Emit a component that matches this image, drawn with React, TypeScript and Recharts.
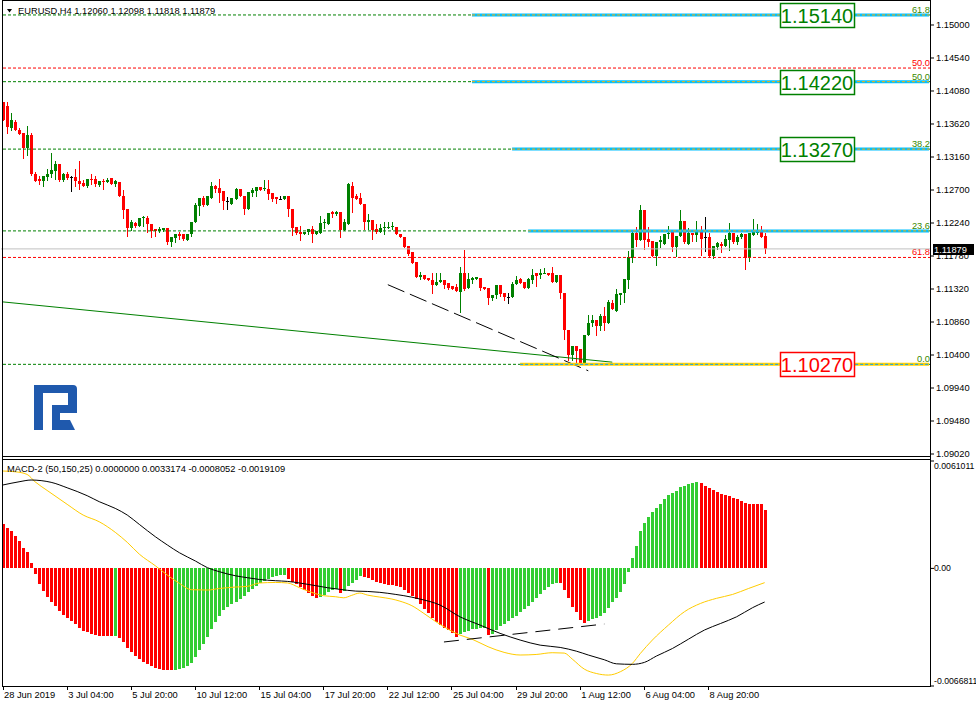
import React from 'react';
import { ComposedChart, Bar, Line, XAxis, YAxis, ReferenceLine, ReferenceDot } from 'recharts';

// EURUSD H4 candles, 28 Jun 2019 .. 9 Aug 2019
const opens = [
  1.1392, 1.1387, 1.1357, 1.1365, 1.1354, 1.1349, 1.1329, 1.1346, 1.1293, 1.1285,
  1.1283, 1.1288, 1.1292, 1.1297, 1.1306, 1.1284, 1.1292, 1.1288, 1.1288, 1.1283,
  1.128, 1.1275, 1.1286, 1.1286, 1.1277, 1.1283, 1.1281, 1.1287, 1.1279, 1.1281,
  1.1262, 1.1243, 1.1217, 1.1224, 1.122, 1.1231, 1.1231, 1.1223, 1.1215, 1.1213,
  1.1214, 1.1217, 1.1198, 1.1203, 1.1209, 1.1208, 1.1201, 1.1208, 1.1225, 1.1248,
  1.1259, 1.1249, 1.1259, 1.1276, 1.1273, 1.1268, 1.1255, 1.1251, 1.1257, 1.1271,
  1.1262, 1.1244, 1.1266, 1.1269, 1.1274, 1.1271, 1.1271, 1.1266, 1.126, 1.1257,
  1.1257, 1.1261, 1.1244, 1.1218, 1.1212, 1.1209, 1.1211, 1.1215, 1.1209, 1.121,
  1.1224, 1.1222, 1.1239, 1.1236, 1.124, 1.1214, 1.1223, 1.1276, 1.1261, 1.1259,
  1.1251, 1.1225, 1.1228, 1.1215, 1.1211, 1.1217, 1.1217, 1.1218, 1.1219, 1.1209,
  1.1204, 1.1192, 1.1183, 1.1169, 1.1149, 1.1152, 1.1148, 1.1145, 1.1137, 1.1142,
  1.1145, 1.114, 1.1136, 1.1135, 1.1128, 1.1155, 1.1133, 1.1144, 1.1146, 1.1148,
  1.1135, 1.1134, 1.1119, 1.1124, 1.1137, 1.1127, 1.1121, 1.1121, 1.1139, 1.1146,
  1.1142, 1.1134, 1.1145, 1.1154, 1.1151, 1.1154, 1.1154, 1.1154, 1.1142, 1.1151,
  1.1127, 1.1075, 1.104, 1.1052, 1.1048, 1.1028, 1.1068, 1.1084, 1.1089, 1.1081,
  1.1095, 1.1084, 1.1113, 1.1101, 1.1123, 1.1127, 1.1144, 1.1175, 1.121, 1.12,
  1.1242, 1.1202, 1.1199, 1.1178, 1.1197, 1.1195, 1.1208, 1.1212, 1.119, 1.1206,
  1.1227, 1.1195, 1.121, 1.1207, 1.1214, 1.1204, 1.1204, 1.1178, 1.1191, 1.1195,
  1.1192, 1.12, 1.121, 1.1197, 1.1204, 1.1209, 1.1175, 1.1207, 1.121, 1.1213,
  1.1206,
];
const highs = [
  1.1393, 1.1393, 1.1378, 1.1367, 1.1357, 1.135, 1.1359, 1.135, 1.1295, 1.1289,
  1.1289, 1.1299, 1.1322, 1.131, 1.1306, 1.1294, 1.1295, 1.1289, 1.1299, 1.131,
  1.1284, 1.1286, 1.1293, 1.129, 1.1282, 1.1285, 1.1287, 1.1287, 1.1284, 1.1281,
  1.127, 1.1243, 1.1228, 1.1226, 1.1231, 1.1234, 1.1234, 1.1223, 1.1215, 1.1218,
  1.1217, 1.1217, 1.1205, 1.1209, 1.1212, 1.1208, 1.1208, 1.1226, 1.1252, 1.1259,
  1.1261, 1.1261, 1.1281, 1.1277, 1.1285, 1.1268, 1.126, 1.1259, 1.1273, 1.1271,
  1.1262, 1.1267, 1.1273, 1.1274, 1.1274, 1.1284, 1.1284, 1.1266, 1.126, 1.1262,
  1.1262, 1.1261, 1.1244, 1.1218, 1.122, 1.1212, 1.1215, 1.122, 1.1213, 1.1234,
  1.123, 1.1238, 1.1241, 1.1241, 1.124, 1.1229, 1.128, 1.1281, 1.1265, 1.1266,
  1.1251, 1.1237, 1.1228, 1.1222, 1.1223, 1.1225, 1.1225, 1.1226, 1.1219, 1.1209,
  1.1204, 1.1192, 1.1183, 1.1169, 1.1156, 1.1152, 1.1148, 1.1155, 1.1155, 1.1155,
  1.1145, 1.114, 1.1136, 1.1139, 1.1162, 1.1187, 1.1154, 1.1149, 1.1149, 1.1148,
  1.1135, 1.1134, 1.1124, 1.1138, 1.1138, 1.1127, 1.1127, 1.1142, 1.115, 1.1147,
  1.1142, 1.1148, 1.116, 1.1154, 1.116, 1.1161, 1.1155, 1.1162, 1.1151, 1.1151,
  1.1127, 1.1075, 1.1052, 1.1052, 1.1048, 1.1068, 1.1096, 1.1096, 1.1089, 1.1097,
  1.1107, 1.1117, 1.1117, 1.1132, 1.1127, 1.1146, 1.1185, 1.1214, 1.1218, 1.1249,
  1.1242, 1.1218, 1.1199, 1.1198, 1.1206, 1.1209, 1.122, 1.1212, 1.1206, 1.1242,
  1.1227, 1.1217, 1.121, 1.1227, 1.122, 1.1233, 1.121, 1.1192, 1.1197, 1.1198,
  1.1207, 1.1224, 1.121, 1.1207, 1.121, 1.1209, 1.121, 1.123, 1.1223, 1.122,
  1.12098,
];
const lows = [
  1.1367, 1.135, 1.1354, 1.1353, 1.1348, 1.1315, 1.1319, 1.1291, 1.1282, 1.1279,
  1.1275, 1.1284, 1.1288, 1.1285, 1.1282, 1.1283, 1.1286, 1.1268, 1.1275, 1.1271,
  1.1275, 1.1274, 1.1278, 1.1276, 1.1276, 1.1272, 1.1281, 1.1279, 1.1276, 1.1261,
  1.1231, 1.1206, 1.1214, 1.1219, 1.122, 1.122, 1.1212, 1.1205, 1.1206, 1.1211,
  1.1213, 1.1195, 1.1192, 1.1198, 1.1202, 1.1201, 1.1201, 1.1206, 1.1225, 1.1235,
  1.1248, 1.1249, 1.1259, 1.1267, 1.1253, 1.1244, 1.1244, 1.1251, 1.1257, 1.1261,
  1.1236, 1.1244, 1.1262, 1.1262, 1.127, 1.127, 1.1258, 1.1254, 1.1252, 1.1257,
  1.1257, 1.1234, 1.1207, 1.1208, 1.1201, 1.1208, 1.1209, 1.1198, 1.1209, 1.121,
  1.1217, 1.1222, 1.1232, 1.1235, 1.1204, 1.1214, 1.1223, 1.1239, 1.1258, 1.125,
  1.1216, 1.1216, 1.1202, 1.121, 1.1211, 1.1209, 1.1217, 1.1216, 1.1208, 1.1204,
  1.119, 1.1179, 1.1168, 1.1149, 1.1146, 1.1146, 1.1144, 1.1126, 1.1137, 1.1142,
  1.1133, 1.1132, 1.1132, 1.1129, 1.11, 1.1131, 1.1133, 1.1141, 1.1146, 1.113,
  1.1132, 1.1111, 1.1117, 1.112, 1.1122, 1.1117, 1.1112, 1.1121, 1.1139, 1.114,
  1.1133, 1.1134, 1.114, 1.1136, 1.1148, 1.1154, 1.1152, 1.1142, 1.1142, 1.1119,
  1.1062, 1.1033, 1.1033, 1.103, 1.1027, 1.1027, 1.1068, 1.1081, 1.1068, 1.1075,
  1.1075, 1.1084, 1.1104, 1.1101, 1.1111, 1.1114, 1.1133, 1.1169, 1.1192, 1.12,
  1.1188, 1.1192, 1.1178, 1.1165, 1.1191, 1.1195, 1.1203, 1.1185, 1.1178, 1.1206,
  1.1196, 1.1195, 1.1199, 1.1199, 1.1179, 1.1185, 1.1177, 1.1175, 1.1188, 1.1183,
  1.1192, 1.1186, 1.1196, 1.1195, 1.1203, 1.116, 1.1171, 1.1207, 1.1208, 1.1205,
  1.11818,
];
const closes = [
  1.1367, 1.1358, 1.1368, 1.1353, 1.1348, 1.1329, 1.1346, 1.1292, 1.1283, 1.1283,
  1.1289, 1.1293, 1.1298, 1.1306, 1.1284, 1.1292, 1.1287, 1.1288, 1.1282, 1.1278,
  1.1275, 1.1286, 1.1284, 1.1278, 1.1282, 1.1281, 1.1284, 1.1279, 1.1282, 1.1261,
  1.1242, 1.1217, 1.1226, 1.122, 1.1231, 1.1232, 1.1222, 1.1213, 1.1213, 1.1216,
  1.1217, 1.1197, 1.1205, 1.1209, 1.1206, 1.1202, 1.1208, 1.1225, 1.1249, 1.1259,
  1.1249, 1.1261, 1.1275, 1.1272, 1.1266, 1.1254, 1.1255, 1.1259, 1.1271, 1.1261,
  1.1244, 1.1267, 1.127, 1.1274, 1.127, 1.1273, 1.1264, 1.1257, 1.1257, 1.1257,
  1.1261, 1.1244, 1.1217, 1.121, 1.1208, 1.1212, 1.1215, 1.1209, 1.1213, 1.1224,
  1.1225, 1.1238, 1.1236, 1.124, 1.1214, 1.1225, 1.1279, 1.1259, 1.1258, 1.125,
  1.1225, 1.1228, 1.1214, 1.1211, 1.1217, 1.1218, 1.1219, 1.122, 1.1208, 1.1204,
  1.119, 1.1181, 1.1168, 1.1149, 1.1151, 1.1146, 1.1144, 1.1137, 1.1142, 1.1145,
  1.1138, 1.1133, 1.1132, 1.1129, 1.1155, 1.1132, 1.1146, 1.1147, 1.1149, 1.1134,
  1.1132, 1.112, 1.1124, 1.1137, 1.1125, 1.1121, 1.1121, 1.1139, 1.1145, 1.114,
  1.1134, 1.1146, 1.1152, 1.115, 1.1154, 1.1155, 1.1152, 1.1142, 1.1151, 1.1127,
  1.1075, 1.104, 1.1052, 1.1046, 1.1029, 1.1068, 1.1084, 1.1089, 1.1081, 1.1095,
  1.1084, 1.1114, 1.1104, 1.1125, 1.1127, 1.1146, 1.1177, 1.121, 1.12, 1.1242,
  1.12, 1.1198, 1.1178, 1.1198, 1.12, 1.1209, 1.121, 1.119, 1.1206, 1.1227,
  1.1197, 1.121, 1.1207, 1.1214, 1.1202, 1.1204, 1.1178, 1.1192, 1.1196, 1.1192,
  1.1202, 1.121, 1.1198, 1.1204, 1.1209, 1.1175, 1.121, 1.1211, 1.1213, 1.1205,
  1.11879,
];

// MACD-2 histogram, in units of 0.00001
const histogram = [
  252, 227, 212, 186, 155, 117, 95, 30, -30, -87,
  -127, -161, -189, -214, -242, -265, -280, -299, -318, -341,
  -354, -360, -371, -379, -383, -384, -385, -386, -385, -394,
  -420, -451, -477, -500, -515, -530, -545, -557, -568, -572,
  -576, -578, -580, -578, -574, -566, -555, -536, -506, -464,
  -428, -390, -343, -303, -269, -239, -218, -203, -189, -174,
  -159, -136, -117, -100, -85, -72, -61, -51, -45, -40,
  -38, -61, -76, -91, -106, -121, -140, -155, -167, -163,
  -152, -136, -123, -117, -138, -129, -102, -85, -68, -45,
  -49, -57, -64, -76, -83, -89, -93, -97, -102, -108,
  -123, -138, -155, -174, -203, -231, -256, -280, -307, -322,
  -337, -350, -369, -388, -375, -364, -354, -347, -343, -341,
  -339, -379, -371, -352, -330, -314, -299, -284, -269, -250,
  -231, -212, -193, -170, -148, -125, -106, -89, -81, -85,
  -121, -170, -218, -246, -294, -309, -297, -290, -280, -269,
  -256, -227, -193, -167, -133, -91, -23, 57, 129, 212,
  256, 292, 318, 341, 364, 392, 415, 426, 441, 462,
  470, 477, 483, 489, 483, 470, 455, 445, 436, 420,
  417, 413, 402, 394, 383, 369, 368, 367, 366, 365,
  332,
];

// [bar, value in 0.00001]
const blackLine: [number, number][] = [
  [0, 474], [4, 492], [7, 502], [12, 489], [16, 458], [21, 413], [24, 379], [28, 341],
  [31, 303], [34, 250], [38, 180], [41, 133], [44, 89], [48, 42], [51, 4], [54, -19],
  [58, -42], [61, -53], [64, -63], [68, -70], [71, -74], [74, -83], [78, -98], [81, -110],
  [84, -119], [88, -129], [91, -131], [94, -136], [98, -148], [100, -155], [104, -174],
  [109, -208], [114, -275], [119, -322], [124, -369], [129, -407], [134, -436], [139, -449],
  [143, -470], [146, -492], [150, -519], [153, -542], [157, -545], [160, -534], [163, -498],
  [167, -455], [171, -402], [175, -350], [179, -313], [183, -275], [187, -223], [190, -191],
];
const goldLine: [number, number][] = [
  [0, 553], [3, 549], [6, 534], [8, 492], [11, 443], [16, 364], [20, 303], [24, 265],
  [28, 205], [31, 148], [34, 81], [38, 15], [41, -38], [44, -85], [47, -121], [51, -123],
  [54, -114], [58, -106], [61, -102], [64, -83], [68, -80], [71, -83], [74, -110], [78, -144],
  [80, -155], [83, -161], [85, -167], [87, -153], [89, -140], [91, -152], [94, -163], [97, -174],
  [99, -186], [102, -212], [105, -256], [108, -303], [111, -345], [114, -379], [117, -402],
  [121, -445], [125, -477], [129, -492], [133, -489], [137, -479], [140, -481], [142, -515],
  [145, -572], [148, -597], [151, -606], [154, -587], [157, -540], [159, -483], [162, -407],
  [166, -322], [170, -246], [174, -199], [178, -170], [182, -148], [186, -114], [190, -81],
];

const timeLabels = [
  '28 Jun 2019', '3 Jul 04:00', '5 Jul 20:00', '10 Jul 12:00', '15 Jul 04:00', '17 Jul 20:00',
  '22 Jul 12:00', '25 Jul 04:00', '29 Jul 20:00', '1 Aug 12:00', '6 Aug 04:00', '8 Aug 20:00',
];
const priceTicks = [
  1.0902, 1.0948, 1.0994, 1.104, 1.1086, 1.1132, 1.1178, 1.1224, 1.127, 1.1316, 1.1362, 1.1408, 1.1454, 1.15,
];
const macdTicks = [0.0061011, 0, -0.0066811];
const macdLegend = ['0.0000000', '0.0033174', '-0.0008052', '-0.0019109'];

// fibonacci objects: level, tag, price box text, first bar of the thick line
const fibLevels = [
  { price: 1.1514, tag: '61.8', box: '1.15140', from: 117 },
  { price: 1.1421, tag: '50.0', box: '1.14220', from: 117 },
  { price: 1.1327, tag: '38.2', box: '1.13270', from: 127 },
  { price: 1.1213, tag: '23.6', box: '', from: 131 },
];
const zeroLevel = { price: 1.1027, tag: '0.0', box: '1.10270', from: 129 };
const redLevels = [
  { price: 1.144, tag: '50.0' },
  { price: 1.1176, tag: '61.8' },
];
const greenTrend = [{ bar: 0, price: 1.1114 }, { bar: 152, price: 1.103 }];
const dashTrend = [{ bar: 96, price: 1.1138 }, { bar: 146, price: 1.1018 }];
const macdTrend = [{ bar: 110, value: -0.00418 }, { bar: 150, value: -0.00316 }];

const SLOTS = 232;
const BOX_BAR = 203;
const FONT = '"Liberation Sans", Arial, sans-serif';
const FS = 9.3;
const GREEN_TXT = '#3a8a00';

const last = closes.length - 1;
const lastClose = closes[last];

const mainData = Array.from({ length: SLOTS }, (_, i) =>
  i <= last
    ? { i, o: opens[i], h: highs[i], l: lows[i], c: closes[i], range: [lows[i], highs[i]] }
    : { i },
);

const macdData: any[] = Array.from({ length: SLOTS }, (_, i) => ({
  i,
  hist: histogram[i] != null ? histogram[i] * 1e-5 : undefined,
}));
blackLine.forEach(([b, v]) => (macdData[b].macd = v * 1e-5));
goldLine.forEach(([b, v]) => (macdData[b].signal = v * 1e-5));

// histogram is green while rising, red while falling
const histColors: string[] = [];
histogram.forEach((v, i) => {
  if (i === 0) histColors.push('#ff0000');
  else if (v > histogram[i - 1]) histColors.push('#32cd32');
  else if (v < histogram[i - 1]) histColors.push('#ff0000');
  else histColors.push(histColors[i - 1]);
});

function Candle(props: any) {
  const { x, y, width, height, payload } = props;
  if (!payload || payload.o == null || x == null || isNaN(y)) return null;
  const { o, h, l, c } = payload;
  const top = Math.min(y, y + height);
  const bot = Math.max(y, y + height);
  const span = h - l;
  const py = (p: number) => (span > 0 ? top + ((h - p) / span) * (bot - top) : top);
  const cx = Math.floor(x + width / 2);
  const color = c > o ? '#008000' : c < o ? '#ff0000' : '#000000';
  const b1 = Math.round(py(Math.max(o, c)));
  const b2 = Math.round(py(Math.min(o, c)));
  return (
    <g>
      <line x1={cx + 0.5} x2={cx + 0.5} y1={Math.round(top)} y2={Math.round(bot) + 1} stroke={color} />
      {c === o ? (
        <line x1={cx - 1} x2={cx + 2} y1={b1 + 0.5} y2={b1 + 0.5} stroke={color} />
      ) : (
        <rect x={cx - 1} y={b1} width={3} height={Math.max(1, b2 - b1)} fill={color} />
      )}
    </g>
  );
}

function HistBar(props: any) {
  const { x, y, width, height, index } = props;
  if (x == null || isNaN(y) || !height) return null;
  const cx = Math.floor(x + width / 2);
  const top = Math.round(Math.min(y, y + height));
  const bot = Math.round(Math.max(y, y + height));
  return <rect x={cx - 1} y={top} width={3} height={Math.max(1, bot - top)} fill={histColors[index]} />;
}

function FibTag({ viewBox, text, color }: any) {
  if (!viewBox) return null;
  return (
    <text x={viewBox.x + viewBox.width - 1} y={viewBox.y - 2} textAnchor="end" fontSize={FS} fill={color} fontFamily={FONT}>
      {text}
    </text>
  );
}

function PriceTag({ viewBox, text }: any) {
  if (!viewBox) return null;
  const x = viewBox.x + viewBox.width + 2;
  const y = Math.round(viewBox.y);
  return (
    <g>
      <rect x={x} y={y - 5} width={41} height={11} fill="#000" />
      <text x={x + 1} y={y + 4} fontSize={FS} fill="#fff" fontFamily={FONT}>
        {text}
      </text>
    </g>
  );
}

function LevelBox({ cx, cy, text, color }: any) {
  if (cx == null || cy == null) return null;
  const x = Math.round(cx) - 37;
  const y = Math.round(cy) - 12;
  return (
    <g>
      <rect x={x + 0.5} y={y + 0.5} width={74} height={24} fill="#fff" stroke={color} strokeWidth={1.5} />
      <text x={x + 37} y={y + 19.5} textAnchor="middle" fontSize={20} fill={color} fontFamily={FONT}>
        {text}
      </text>
    </g>
  );
}

function TimeTick({ x, y, payload }: any) {
  const idx = Number(payload.value);
  if (idx % 16 !== 0) return null;
  const label = timeLabels[idx / 16];
  if (!label) return null;
  const lx = Math.floor(x) + 0.5;
  return (
    <g>
      <line x1={lx} x2={lx} y1={y - 5} y2={y - 1} stroke="#000" />
      <text x={x + 1} y={y} dy="0.71em" fontSize={FS} fill="#000" fontFamily={FONT}>
        {label}
      </text>
    </g>
  );
}

function MacdTick({ x, y, payload }: any) {
  const v = payload.value;
  const off = v > 0 ? 5 : v < 0 ? -5 : 0;
  const label = v === 0 ? '0.00' : v.toFixed(7);
  return (
    <text x={x - 2} y={y + off} dy="0.355em" fontSize={8.7} fill="#000" fontFamily={FONT}>
      {label}
    </text>
  );
}

function Logo() {
  const blue = '#1f59ad';
  return (
    <g fill={blue}>
      <rect x={34} y={385} width={9} height={45} />
      <path d="M34 385 H73 Q77 385 77 389 V413 H52 V405 H68 V393 H34 Z" />
      <rect x={52} y={405} width={8} height={25} />
      <polygon points="60,420 70,420 75,430 60,430" />
    </g>
  );
}

export default function App() {
  const yMain: [number, number] = [1.089783, 1.153345];
  return (
    <div style={{ position: 'absolute', left: 0, top: 0, width: 976, height: 707, background: '#fff', fontFamily: FONT }}>
      <div style={{ position: 'absolute', left: 0, top: 0 }}>
        <ComposedChart width={976} height={460} data={mainData} margin={{ top: 1, right: 0, bottom: 3, left: 1 }}>
          <XAxis dataKey="i" type="category" hide />
          <YAxis
            orientation="right"
            width={45}
            type="number"
            domain={yMain}
            allowDataOverflow
            ticks={priceTicks}
            interval={0}
            tickFormatter={(v: number) => v.toFixed(5)}
            tickSize={3}
            tickMargin={2}
            axisLine={false}
            tickLine={{ stroke: '#000' }}
            tick={{ fontSize: FS, fill: '#000', fontFamily: FONT }}
          />
          {[...fibLevels, zeroLevel].map((f) => (
            <ReferenceLine
              key={'g' + f.price}
              y={f.price}
              stroke="#008000"
              strokeDasharray="3 2"
              label={(p: any) => <FibTag viewBox={p.viewBox} text={f.tag} color={GREEN_TXT} />}
            />
          ))}
          {redLevels.map((f) => (
            <ReferenceLine
              key={'r' + f.price}
              y={f.price}
              stroke="#ff0000"
              strokeDasharray="3 2"
              label={(p: any) => <FibTag viewBox={p.viewBox} text={f.tag} color="#ff0000" />}
            />
          ))}
          <ReferenceLine
            y={lastClose}
            stroke="#c0c0c0"
            label={(p: any) => <PriceTag viewBox={p.viewBox} text={lastClose.toFixed(5)} />}
          />
          <ReferenceLine
            segment={[{ x: greenTrend[0].bar, y: greenTrend[0].price }, { x: greenTrend[1].bar, y: greenTrend[1].price }]}
            stroke="#008000"
          />
          <ReferenceLine
            segment={[{ x: dashTrend[0].bar, y: dashTrend[0].price }, { x: dashTrend[1].bar, y: dashTrend[1].price }]}
            stroke="#000"
            strokeDasharray="18 6"
          />
          <Bar dataKey="range" barSize={3} shape={<Candle />} isAnimationActive={false} />
          {fibLevels.map((f) => (
            <ReferenceLine
              key={'b' + f.price}
              segment={[{ x: f.from, y: f.price }, { x: SLOTS - 1, y: f.price }]}
              stroke="#00bfff"
              strokeWidth={3}
            />
          ))}
          {fibLevels.map((f) => (
            <ReferenceLine
              key={'bd' + f.price}
              segment={[{ x: f.from, y: f.price }, { x: SLOTS - 1, y: f.price }]}
              stroke="#ffb000"
              strokeDasharray="3 2"
            />
          ))}
          <ReferenceLine
            segment={[{ x: zeroLevel.from, y: zeroLevel.price }, { x: SLOTS - 1, y: zeroLevel.price }]}
            stroke="#ffd000"
            strokeWidth={3}
          />
          <ReferenceLine
            segment={[{ x: zeroLevel.from, y: zeroLevel.price }, { x: SLOTS - 1, y: zeroLevel.price }]}
            stroke="#00a0ff"
            strokeDasharray="3 2"
          />
          {[...fibLevels, zeroLevel]
            .filter((f) => f.box)
            .map((f) => (
              <ReferenceDot
                key={'box' + f.price}
                x={BOX_BAR}
                y={f.price}
                r={0}
                shape={(p: any) => (
                  <LevelBox cx={p.cx} cy={p.cy} text={f.box} color={f === zeroLevel ? '#ff0000' : '#008000'} />
                )}
              />
            ))}
        </ComposedChart>
      </div>

      <div style={{ position: 'absolute', left: 0, top: 459 }}>
        <ComposedChart width={976} height={248} data={macdData} margin={{ top: 2, right: 0, bottom: 0, left: 1 }}>
          <XAxis
            dataKey="i"
            type="category"
            interval={15}
            height={21}
            tickSize={4}
            tickMargin={1}
            tickLine={false}
            axisLine={false}
            tick={<TimeTick />}
          />
          <YAxis
            orientation="right"
            width={45}
            type="number"
            domain={[-0.0066811, 0.0061011]}
            allowDataOverflow
            ticks={macdTicks}
            interval={0}
            tickSize={3}
            tickMargin={2}
            axisLine={false}
            tickLine={{ stroke: '#000' }}
            tick={<MacdTick />}
          />
          <Bar dataKey="hist" barSize={3} shape={<HistBar />} isAnimationActive={false} />
          <Line dataKey="signal" type="monotone" stroke="#ffcc00" strokeWidth={1} dot={false} connectNulls isAnimationActive={false} />
          <Line dataKey="macd" type="monotone" stroke="#000" strokeWidth={1} dot={false} connectNulls isAnimationActive={false} />
          <ReferenceLine
            segment={[{ x: macdTrend[0].bar, y: macdTrend[0].value }, { x: macdTrend[1].bar, y: macdTrend[1].value }]}
            stroke="#000"
            strokeDasharray="15 8"
          />
        </ComposedChart>
      </div>

      <svg width={976} height={707} style={{ position: 'absolute', left: 0, top: 0, pointerEvents: 'none' }}>
        <g stroke="#000" strokeWidth={1} shapeRendering="crispEdges">
          <line x1={2.5} x2={2.5} y1={0} y2={687} />
          <line x1={930.5} x2={930.5} y1={0} y2={687} />
          <line x1={2} x2={931} y1={0.5} y2={0.5} />
          <line x1={2} x2={931} y1={456.5} y2={456.5} />
          <line x1={2} x2={931} y1={459.5} y2={459.5} />
          <line x1={2} x2={931} y1={686.5} y2={686.5} />
        </g>
        <polygon points="7,9 12,9 9.5,12.5" fill="#000" />
        <text x={18} y={13.5} fontSize={FS} fill="#000" fontFamily={FONT}>
          {`EURUSD,H4  ${opens[last].toFixed(5)} ${highs[last].toFixed(5)} ${lows[last].toFixed(5)} ${closes[last].toFixed(5)}`}
        </text>
        <text x={7} y={472} fontSize={FS} fill="#000" fontFamily={FONT}>
          {`MACD-2 (50,150,25) ${macdLegend.join(' ')}`}
        </text>
        <Logo />
      </svg>
    </div>
  );
}
